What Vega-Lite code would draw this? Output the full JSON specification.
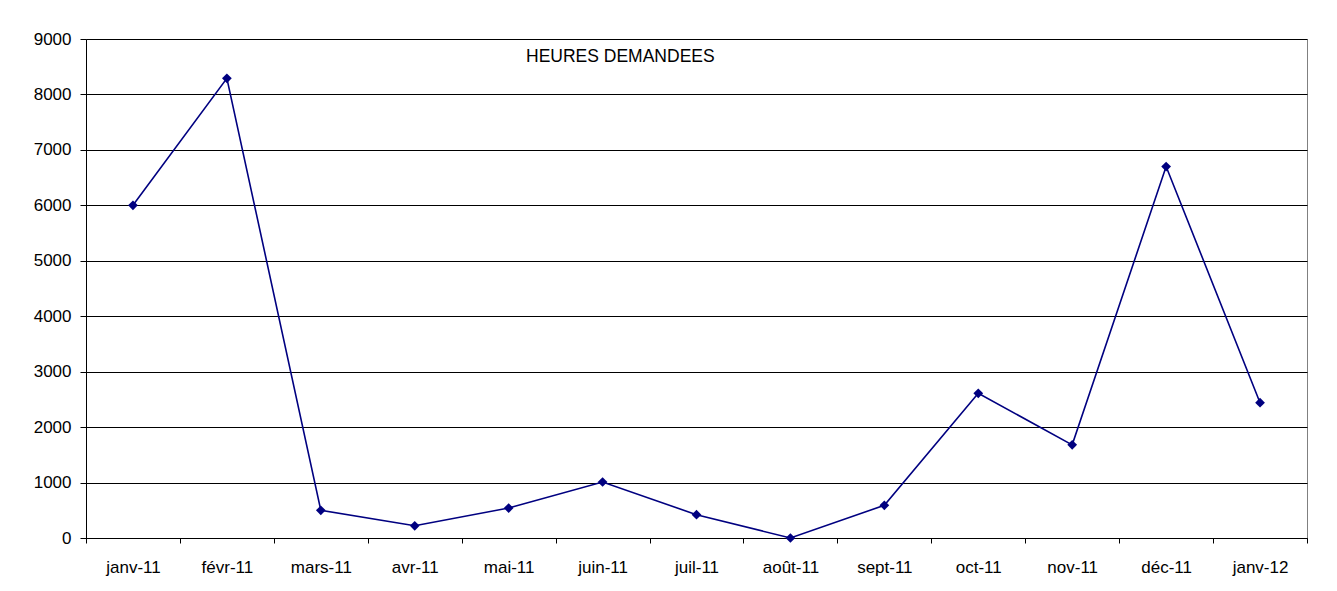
{
  "$schema": "https://vega.github.io/schema/vega-lite/v6.json",
  "autosize": {"type": "none"},
  "padding": {"left": 86, "top": 39, "right": 30, "bottom": 53},
  "width": 1221,
  "height": 499,
  "background": "white",
  "title": {
    "text": "HEURES DEMANDEES",
    "anchor": "start",
    "frame": "group",
    "orient": "top",
    "offset": 0,
    "baseline": "alphabetic",
    "dx": 440,
    "dy": 49,
    "font": "Liberation Sans",
    "fontSize": 17.5,
    "fontWeight": "normal",
    "color": "#000000"
  },
  "config": {
    "view": {"stroke": "#808080", "strokeWidth": 1},
    "font": "Liberation Sans"
  },
  "data": {
    "values": [
      {"mois": "janv-11", "heures": 6000},
      {"mois": "févr-11", "heures": 8290},
      {"mois": "mars-11", "heures": 500},
      {"mois": "avr-11", "heures": 220},
      {"mois": "mai-11", "heures": 540},
      {"mois": "juin-11", "heures": 1010},
      {"mois": "juil-11", "heures": 420},
      {"mois": "août-11", "heures": 0},
      {"mois": "sept-11", "heures": 590},
      {"mois": "oct-11", "heures": 2610},
      {"mois": "nov-11", "heures": 1680},
      {"mois": "déc-11", "heures": 6700},
      {"mois": "janv-12", "heures": 2440}
    ]
  },
  "mark": {
    "type": "line",
    "color": "#000080",
    "strokeWidth": 1.6,
    "point": {"filled": true, "shape": "diamond", "size": 95, "color": "#000080", "opacity": 1}
  },
  "encoding": {
    "x": {
      "field": "mois",
      "type": "ordinal",
      "sort": null,
      "scale": {"paddingInner": 0, "paddingOuter": 0},
      "axis": {
        "title": null,
        "labelAngle": 0,
        "labelFont": "Liberation Sans",
        "labelFontSize": 17,
        "labelColor": "#000000",
        "labelBaseline": "alphabetic",
        "labelPadding": 29,
        "tickBand": "extent",
        "tickSize": 5,
        "tickColor": "#000000",
        "domainColor": "#000000",
        "domainWidth": 1,
        "grid": false
      }
    },
    "y": {
      "field": "heures",
      "type": "quantitative",
      "scale": {"domain": [0, 9000], "nice": false},
      "axis": {
        "title": null,
        "values": [0, 1000, 2000, 3000, 4000, 5000, 6000, 7000, 8000, 9000],
        "format": "d",
        "labelFont": "Liberation Sans",
        "labelFontSize": 17,
        "labelColor": "#000000",
        "labelPadding": 9,
        "tickSize": 6,
        "tickColor": "#000000",
        "domainColor": "#000000",
        "grid": true,
        "gridColor": "#000000",
        "gridOpacity": 1,
        "gridWidth": 1
      }
    }
  }
}
